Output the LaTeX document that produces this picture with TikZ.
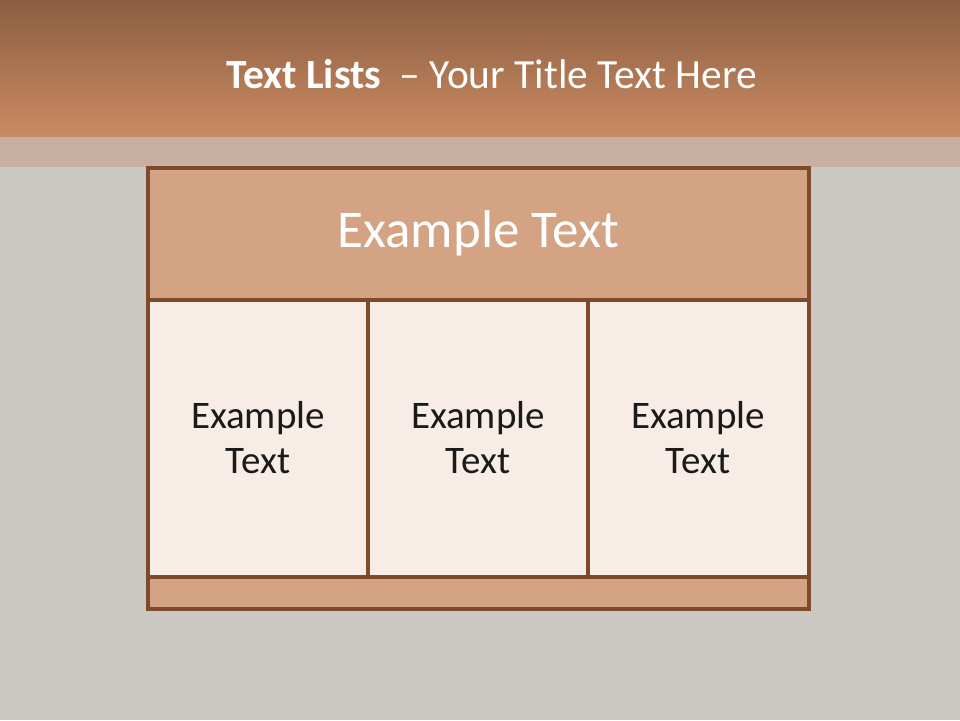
\documentclass[tikz,border=0pt]{standalone}
\usepackage{fontspec}
\setmainfont{Carlito}
\usetikzlibrary{positioning}
\definecolor{bggray}{HTML}{CBC7C3}
\definecolor{hdtop}{HTML}{8C5E41}
\definecolor{hdbot}{HTML}{CB8B63}
\definecolor{bandc}{HTML}{C9AFA2}
\definecolor{boxline}{HTML}{7E4A2B}
\definecolor{boxhead}{HTML}{D4A383}
\definecolor{cellfill}{HTML}{F7ECE6}
\definecolor{celltext}{HTML}{1A1A1A}
\tikzset{
  panel/.style={draw=boxline, line width=3.2pt},
  headcell/.style={panel, fill=boxhead},
  bodycell/.style={panel, fill=cellfill},
  celllabel/.style={text=celltext, align=center, font=\fontsize{39}{45}\selectfont},
  headlabel/.style={text=white, font=\fontsize{53}{62}\selectfont},
}
\begin{document}
\begin{tikzpicture}[x=1pt,y=-1pt]
\useasboundingbox (0,0) rectangle (960,720);
% background
\fill[bggray] (0,0) rectangle (960,720);
\shade[top color=hdtop, bottom color=hdbot] (0,0) rectangle (960,137);
\fill[bandc] (0,137) rectangle (960,167);
% title
\node[text=white, font=\fontsize{41.5}{50}\selectfont] (title) at (491.5,74)
  {\textbf{Text Lists}\ \ – Your Title Text Here};
% table
\path[headcell] (148,168) rectangle (809,300);
\path[bodycell] (148,300) rectangle (368,577);
\path[bodycell] (368,300) rectangle (588,577);
\path[bodycell] (588,300) rectangle (809,577);
\path[headcell] (148,577) rectangle (809,609);
% header label
\node[headlabel] (head) at (478.5,233.5) {Example Text};
% cell labels
\node[celllabel] (c1) at (258,438) {Example\\Text};
\node[celllabel] (c2) at (478,438) {Example\\Text};
\node[celllabel] (c3) at (698,438) {Example\\Text};
\end{tikzpicture}
\end{document}
